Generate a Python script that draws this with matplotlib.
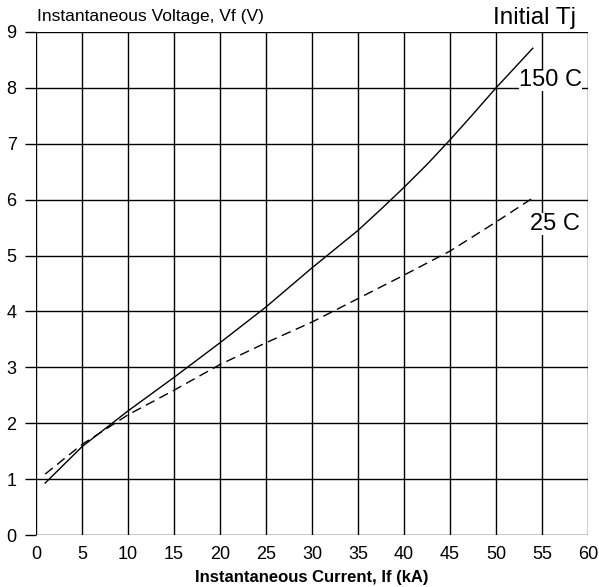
import matplotlib.pyplot as plt

plt.rcParams['font.family'] = ['Liberation Sans', 'DejaVu Sans']

# forward voltage vs current
current_150 = [1, 5, 10, 15, 20, 25, 30, 35, 37.5, 40, 42.5, 45, 47.5, 50, 54]
vf_150 = [0.93, 1.58, 2.22, 2.82, 3.44, 4.08, 4.78, 5.45, 5.83, 6.22, 6.63, 7.07, 7.53, 8.0, 8.71]

current_25 = [1, 5, 10, 15, 20, 25, 30, 35, 40, 45, 50, 54]
vf_25 = [1.09, 1.62, 2.15, 2.59, 3.05, 3.44, 3.81, 4.23, 4.65, 5.08, 5.6, 6.03]

xticks = list(range(0, 61, 5))
yticks = list(range(0, 10))

fig = plt.figure(figsize=(5.99, 5.87), dpi=100)
ax = fig.add_axes([36 / 599, 52 / 587, 552 / 599, 503 / 587])

ax.plot(current_150, vf_150, color='black', lw=1.0)
ax.plot(current_25, vf_25, color='black', lw=1.0, dashes=(7, 4))

ax.set_xlim(0, 60)
ax.set_ylim(0, 9)
ax.set_xticks(xticks)
ax.set_yticks(yticks)
ax.grid(True, color='black', lw=1.0)
ax.set_axisbelow(True)
for s in ax.spines.values():
    s.set_visible(False)
ax.tick_params(axis='x', length=0, pad=8, labelsize=13)
ax.tick_params(axis='y', length=8, width=1.0, pad=6, labelsize=13)

ax.set_xlabel('Instantaneous Current, If (kA)', fontsize=12, fontweight='bold', labelpad=5)
fig.text(37 / 599, 1 - 17 / 587, 'Instantaneous Voltage, Vf (V)', fontsize=12.5, va='center', ha='left')
fig.text(576 / 599, 1 - 18 / 587, 'Initial Tj', fontsize=17.5, va='center', ha='right')

box = dict(facecolor='white', edgecolor='none', pad=0)
ax.text(55.9, 8.15, '150 C', fontsize=17, ha='center', va='center', bbox=box)
ax.text(56.4, 5.57, '25 C', fontsize=17, ha='center', va='center', bbox=box)

fig.savefig('out.png', dpi=100)
